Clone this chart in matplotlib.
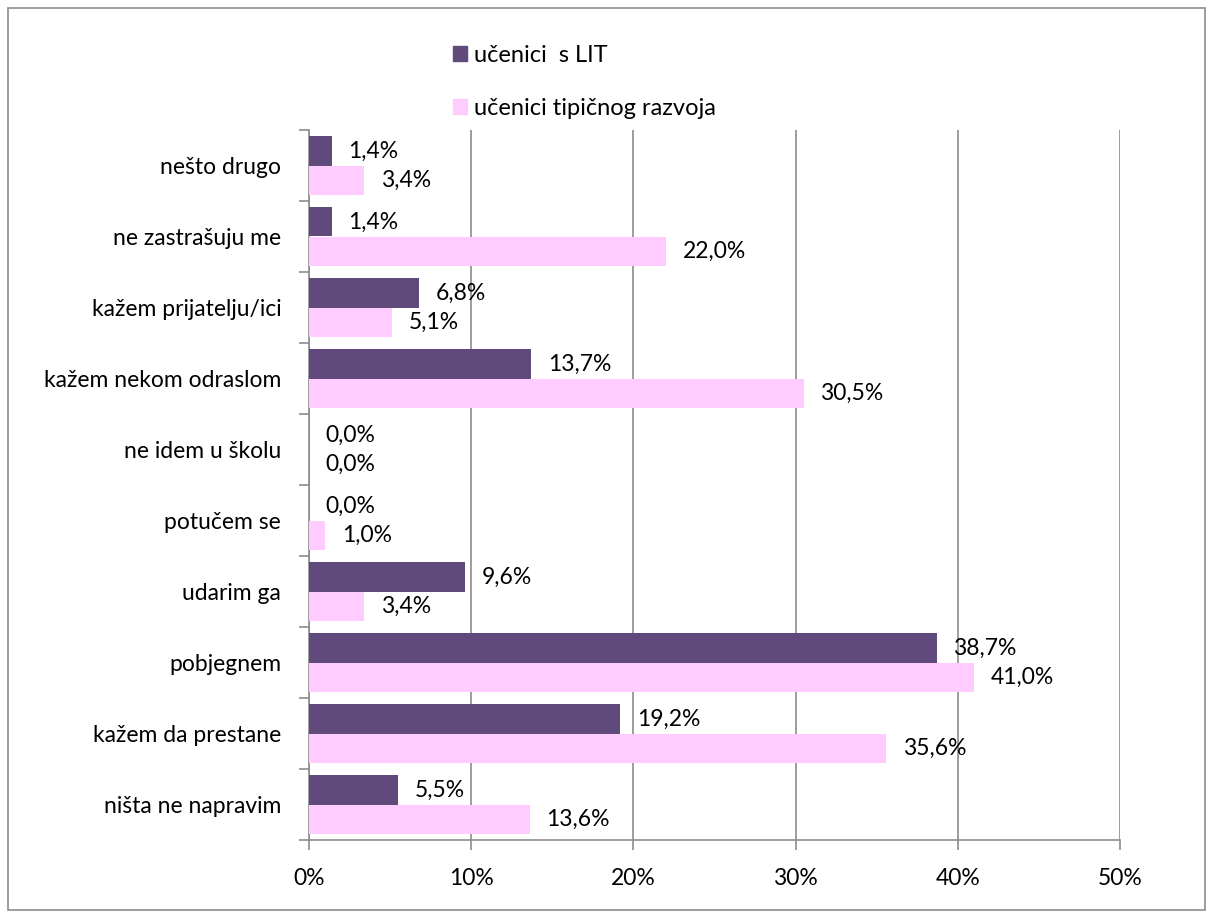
import numpy as np
import matplotlib
matplotlib.use("Agg")
import matplotlib.pyplot as plt
from matplotlib.patches import Rectangle, Patch

plt.rcParams['font.family'] = ['Lato', 'DejaVu Sans']

# categories from top to bottom
categories = ['nešto drugo', 'ne zastrašuju me', 'kažem prijatelju/ici',
              'kažem nekom odraslom', 'ne idem u školu', 'potučem se',
              'udarim ga', 'pobjegnem', 'kažem da prestane', 'ništa ne napravim']
lit = [1.4, 1.4, 6.8, 13.7, 0.0, 0.0, 9.6, 38.7, 19.2, 5.5]
typical = [3.4, 22.0, 5.1, 30.5, 0.0, 1.0, 3.4, 41.0, 35.6, 13.6]
series_names = ['učenici  s LIT', 'učenici tipičnog razvoja']
xticks = [0, 10, 20, 30, 40, 50]

dark = '#604A7B'
pink = '#FFCCFF'
grid_col = '#8c8c8c'
fs = 16.5

fig = plt.figure(figsize=(12.13, 9.18), dpi=100)
ax = fig.add_axes([309 / 1213, 78 / 918, 811 / 1213, 710 / 918])

y = np.arange(len(categories))
h = 0.41
ax.barh(y - h / 2, lit, height=h, color=dark, zorder=3)
ax.barh(y + h / 2, typical, height=h, color=pink, zorder=3)

def fmt(v):
    return f'{v:.1f}%'.replace('.', ',')

for i in range(len(categories)):
    ax.annotate(fmt(lit[i]), (lit[i], y[i] - h / 2), xytext=(12, 0),
                textcoords='offset points', va='center', ha='left', fontsize=fs)
    ax.annotate(fmt(typical[i]), (typical[i], y[i] + h / 2), xytext=(12, 0),
                textcoords='offset points', va='center', ha='left', fontsize=fs)

ax.set_xlim(0, 50)
ax.set_ylim(len(categories) - 0.5, -0.5)
ax.set_xticks(xticks)
ax.set_xticklabels([f'{t}%' for t in xticks], fontsize=fs)
ax.set_yticks(y)
ax.set_yticklabels(categories, fontsize=fs)
ax.set_yticks(np.arange(-0.5, len(categories)), minor=True)
ax.tick_params(axis='y', which='major', length=0, pad=20)
ax.tick_params(axis='y', which='minor', length=7, color=grid_col, width=1.2)
ax.tick_params(axis='x', length=7, color=grid_col, width=1.2, pad=13)

ax.grid(axis='x', color=grid_col, linewidth=1.2, zorder=0)
for s in ['top', 'right']:
    ax.spines[s].set_visible(False)
for s in ['left', 'bottom']:
    ax.spines[s].set_color(grid_col)
    ax.spines[s].set_linewidth(1.2)

handles = [Patch(color=dark), Patch(color=pink)]
fig.legend(handles, series_names, loc='upper left',
           bbox_to_anchor=(432 / 1213, 1 - 24 / 918), frameon=False,
           fontsize=17, handlelength=0.6, handleheight=0.6,
           handletextpad=0.3, labelspacing=1.35)

fig.patches.append(Rectangle((8 / 1213, 8 / 918), 1197 / 1213, 902 / 918,
                             transform=fig.transFigure, fill=False,
                             edgecolor=grid_col, linewidth=1.2))

fig.savefig('out.png', dpi=100)
